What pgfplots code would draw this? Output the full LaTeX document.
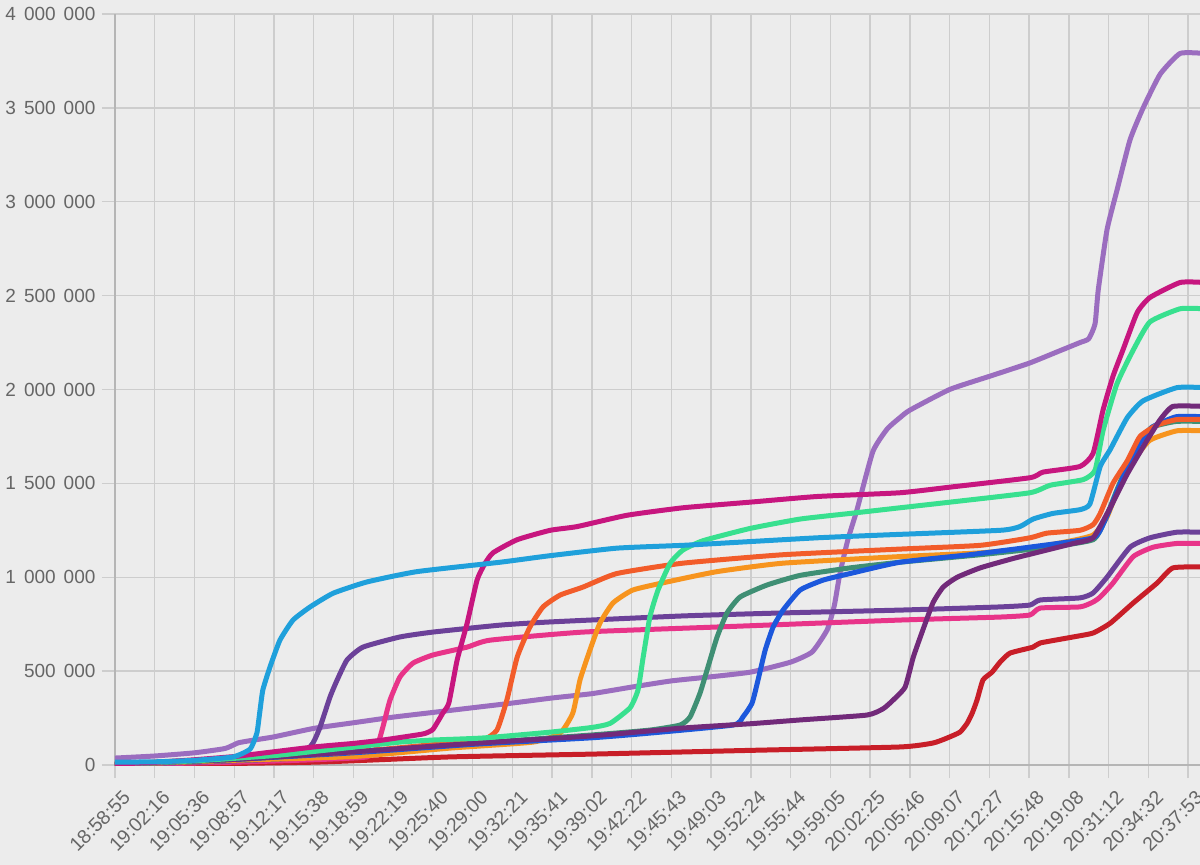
\documentclass[border=0pt]{standalone}
\usepackage{fontspec}
\setmainfont{Liberation Sans}
\usepackage{pgfplots}
\pgfplotsset{compat=1.18}
\definecolor{bgc}{HTML}{ECECEC}
\definecolor{gridc}{HTML}{CDCDCD}
\definecolor{axc}{HTML}{B5B5B5}
\definecolor{labc}{HTML}{666666}
\definecolor{lpurple}{HTML}{9B6DBF}
\definecolor{magenta}{HTML}{C7167F}
\definecolor{green}{HTML}{38E08F}
\definecolor{lblue}{HTML}{1FA0DB}
\definecolor{plum}{HTML}{722A7A}
\definecolor{blue}{HTML}{1C58DC}
\definecolor{orred}{HTML}{F25C2A}
\definecolor{orange}{HTML}{F7941E}
\definecolor{teal}{HTML}{3F8F74}
\definecolor{purple}{HTML}{6C4199}
\definecolor{pink}{HTML}{E83489}
\definecolor{red}{HTML}{C81E28}
\newcommand{\ts}{\hskip 8pt}
\begin{document}
\begin{tikzpicture}
\fill[bgc] (-115pt,-100pt) rectangle (1085pt,765pt);
\begin{axis}[
  at={(0pt,0pt)}, anchor=south west,
  width=1085pt, height=751pt, scale only axis,
  xmin=0, xmax=27.30, ymin=0, ymax=4000000,
  axis lines*=left,
  axis line style={color=axc, line width=2pt},
  grid=major,
  major grid style={color=gridc, line width=1.4pt},
  tick align=outside,
  major tick length=13pt,
  tick style={color=gridc, line width=1.4pt},
  scaled y ticks=false,
  xtick={0,1,...,27},
  xticklabels={18:58:55,19:02:16,19:05:36,19:08:57,19:12:17,19:15:38,19:18:59,19:22:19,19:25:40,19:29:00,19:32:21,19:35:41,19:39:02,19:42:22,19:45:43,19:49:03,19:52:24,19:55:44,19:59:05,20:02:25,20:05:46,20:09:07,20:12:27,20:15:48,20:19:08,20:31:12,20:34:32,20:37:53},
  ytick={0,500000,1000000,1500000,2000000,2500000,3000000,3500000,4000000},
  yticklabels={0,500\ts000,1\ts000\ts000,1\ts500\ts000,2\ts000\ts000,2\ts500\ts000,3\ts000\ts000,3\ts500\ts000,4\ts000\ts000},
  yticklabel style={font=\fontsize{19}{21}\selectfont, text=labc, xshift=-3pt},
  xticklabel style={font=\fontsize{19.5}{21}\selectfont, text=labc, rotate=45, anchor=east, xshift=0pt, yshift=-19.8pt},
  every axis plot/.append style={line width=5pt, no markers, line join=round, line cap=round, smooth, tension=0.3},
]
\addplot[lpurple] coordinates {(0,37000)(1,48000)(2,65000)(2.77,88000)(3.1,118000)(3.5,133000)(4,150000)(5,195000)(6,225000)(7,255000)(8,280000)(9,305000)(10,330000)(11,357000)(12,380000)(13,415000)(14,448000)(15,470000)(16,495000)(17,548000)(17.54,602000)(17.92,720000)(18.1,850000)(18.24,1020000)(18.44,1200000)(18.67,1360000)(19.07,1670000)(19.43,1790000)(19.75,1850000)(20,1890000)(21,2000000)(22,2070000)(23,2140000)(23.7,2200000)(24.28,2250000)(24.5,2270000)(24.66,2350000)(24.74,2530000)(24.96,2850000)(25.21,3060000)(25.54,3330000)(25.87,3500000)(26.3,3680000)(26.8,3790000)(27.4,3790000)};
\addplot[red] coordinates {(0,0)(5,15000)(8.43,43000)(12,58000)(16,78000)(19.75,96000)(20.58,117000)(20.94,144000)(21.26,175000)(21.44,222000)(21.57,277000)(21.69,346000)(21.84,453000)(22.07,495000)(22.27,548000)(22.52,596000)(23.1,628000)(23.28,650000)(24.11,682000)(24.61,703000)(25.04,755000)(25.62,863000)(26.22,969000)(26.62,1050000)(27.4,1055000)};
\addplot[pink] coordinates {(0,2000)(3,15000)(5,28000)(6.34,43000)(6.59,96000)(6.74,202000)(6.92,346000)(7.17,469000)(7.5,543000)(8.0,586000)(8.86,628000)(9.44,665000)(11.78,708000)(15.15,735000)(19.75,772000)(22.27,788000)(23.02,799000)(23.28,836000)(24.28,842000)(24.61,868000)(24.79,895000)(25.11,969000)(25.62,1110000)(26.12,1160000)(26.72,1180000)(27.4,1180000)};
\addplot[purple] coordinates {(0,3000)(2,15000)(4,30000)(4.66,43000)(4.98,117000)(5.16,202000)(5.41,362000)(5.59,453000)(5.84,560000)(6.24,628000)(7.17,682000)(8.0,708000)(9.69,745000)(10.95,762000)(14.29,794000)(16.81,810000)(19.75,825000)(22.27,842000)(23.02,852000)(23.28,879000)(24.28,890000)(24.61,916000)(24.96,1000000)(25.54,1160000)(26.04,1210000)(26.72,1240000)(27.4,1240000)};
\addplot[orange] coordinates {(0,3000)(3,25000)(6,45000)(8.43,90000)(10.52,122000)(11.2,170000)(11.52,277000)(11.7,453000)(11.95,612000)(12.2,755000)(12.53,863000)(13.03,932000)(13.89,975000)(15.15,1030000)(16.81,1075000)(19.75,1110000)(21.77,1130000)(23.02,1155000)(23.96,1190000)(24.61,1225000)(24.96,1320000)(25.29,1500000)(25.62,1620000)(26.04,1730000)(26.72,1780000)(27.4,1780000)};
\addplot[teal] coordinates {(0,5000)(3,30000)(6,70000)(9,115000)(12,160000)(13.46,186000)(14.22,213000)(14.47,256000)(14.72,383000)(14.92,522000)(15.15,682000)(15.4,810000)(15.73,895000)(16.41,959000)(17.24,1010000)(18.5,1050000)(19.75,1080000)(21.77,1120000)(23.5,1160000)(24.61,1200000)(24.9,1300000)(25.2,1460000)(25.5,1610000)(25.8,1730000)(26.1,1800000)(26.7,1830000)(27.4,1830000)};
\addplot[blue] coordinates {(0,5000)(3,30000)(6,65000)(9,110000)(12,145000)(13.46,170000)(15.55,213000)(15.8,256000)(16.03,330000)(16.18,453000)(16.36,612000)(16.56,735000)(16.81,825000)(17.24,932000)(17.82,985000)(18.5,1020000)(19.75,1080000)(21.5,1120000)(23,1160000)(24.61,1210000)(24.9,1300000)(25.2,1450000)(25.5,1600000)(25.8,1720000)(26.1,1800000)(26.7,1855000)(27.4,1855000)};
\addplot[orred] coordinates {(0,5000)(3,35000)(6,70000)(8.43,117000)(9.26,133000)(9.61,186000)(9.86,346000)(10.12,575000)(10.44,735000)(10.77,842000)(11.2,905000)(11.78,948000)(12.63,1020000)(14.29,1075000)(16.81,1120000)(19.75,1150000)(21.77,1170000)(23.02,1210000)(23.45,1235000)(24.28,1250000)(24.61,1280000)(24.79,1340000)(25.11,1500000)(25.47,1620000)(25.79,1750000)(26.22,1810000)(26.72,1840000)(27.4,1840000)};
\addplot[plum] coordinates {(0,5000)(3,30000)(6,70000)(9,115000)(12,155000)(14.29,197000)(16,220000)(17.24,240000)(18.92,266000)(19.33,300000)(19.58,346000)(19.88,415000)(20.08,570000)(20.26,680000)(20.58,863000)(20.84,948000)(21.19,1000000)(21.77,1050000)(22.6,1100000)(23.45,1145000)(24.11,1180000)(24.61,1210000)(25.04,1370000)(25.47,1550000)(25.97,1730000)(26.3,1840000)(26.62,1910000)(27.4,1910000)};
\addplot[green] coordinates {(0,5000)(2,22000)(4,50000)(5,72000)(6,95000)(7.17,122000)(8,133000)(9.26,144000)(10.95,175000)(12,200000)(12.46,222000)(12.96,305000)(13.16,400000)(13.29,575000)(13.46,790000)(13.66,930000)(13.97,1075000)(14.29,1145000)(14.8,1195000)(15.98,1260000)(17.24,1310000)(18.5,1340000)(19.75,1370000)(21.01,1400000)(23.02,1450000)(23.53,1490000)(24.36,1520000)(24.66,1570000)(24.86,1780000)(25.21,2030000)(25.62,2210000)(26.04,2360000)(26.8,2430000)(27.4,2430000)};
\addplot[magenta] coordinates {(0,5000)(1,14000)(2,28000)(3,45000)(3.4,55000)(5,96000)(6,115000)(6.74,133000)(7.6,160000)(7.8,168000)(8.0,190000)(8.25,277000)(8.4,330000)(8.61,560000)(8.86,755000)(9.11,985000)(9.3,1070000)(9.51,1130000)(10.12,1200000)(10.95,1250000)(11.63,1270000)(12.88,1330000)(14.29,1370000)(15.98,1400000)(17.66,1430000)(19.75,1450000)(21.01,1480000)(23.02,1530000)(23.35,1560000)(24.28,1590000)(24.61,1660000)(24.86,1890000)(25.11,2070000)(25.36,2210000)(25.72,2410000)(26.04,2490000)(26.8,2570000)(27.4,2570000)};
\addplot[lblue] coordinates {(0,15000)(1,17000)(2,25000)(2.97,43000)(3.4,85000)(3.57,170000)(3.64,277000)(3.72,400000)(3.9,522000)(4.15,665000)(4.48,772000)(4.91,842000)(5.49,915000)(6.34,975000)(7.6,1030000)(9.69,1080000)(10.95,1115000)(12.63,1155000)(14.29,1170000)(15.15,1180000)(17.66,1210000)(19.33,1225000)(22.27,1250000)(22.77,1270000)(23.1,1310000)(23.6,1340000)(24.28,1360000)(24.53,1390000)(24.79,1590000)(25.04,1680000)(25.47,1850000)(25.87,1940000)(26.72,2010000)(27.4,2010000)};
\end{axis}
\pgfresetboundingbox
\path[use as bounding box] (-115pt,-100pt) rectangle (1085pt,765pt);
\end{tikzpicture}
\end{document}
